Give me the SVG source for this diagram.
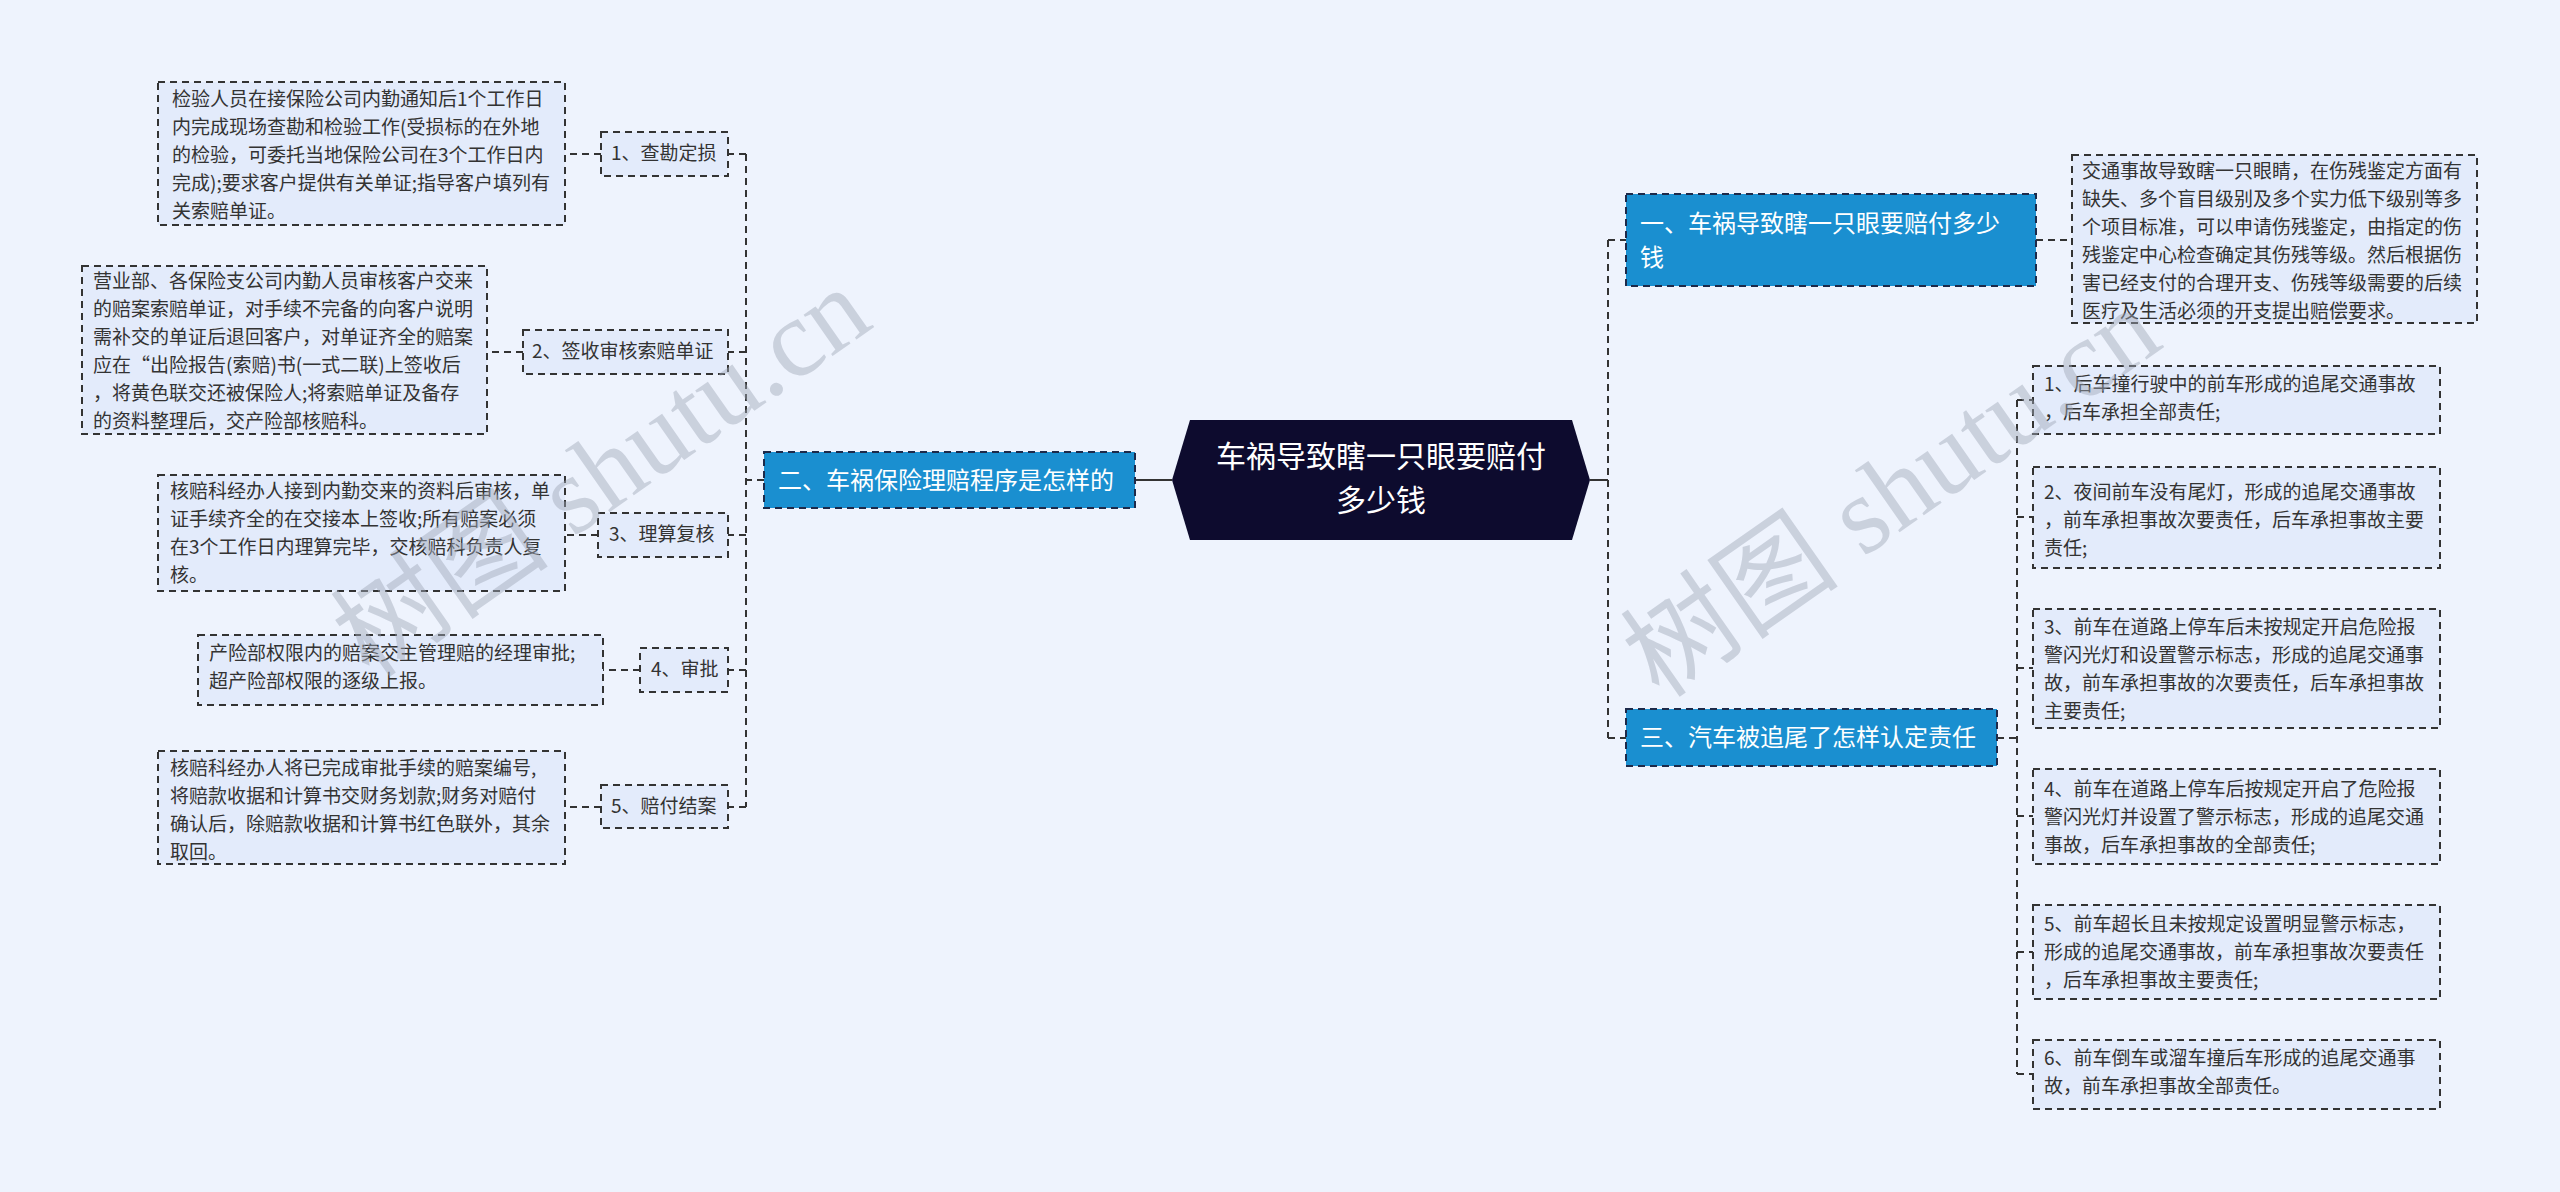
<svg xmlns="http://www.w3.org/2000/svg" width="2560" height="1192" viewBox="0 0 2560 1192">
<style>
.bg{fill:#eef3fd}
.d{fill:#e3ebfb;stroke:#333;stroke-width:2;stroke-dasharray:7 5}
.b{fill:#1a8fd0;stroke:#1d2a4a;stroke-width:2;stroke-dasharray:7 5}
.c{fill:none;stroke:#333;stroke-width:2;stroke-dasharray:7 5}
.t{font-family:"Noto Sans CJK SC","Liberation Sans",sans-serif;font-size:19px;fill:#333}
.s{font-family:"Noto Sans CJK SC","Liberation Sans",sans-serif;font-size:19px;fill:#333}
.w{font-family:"Noto Sans CJK SC","Liberation Sans",sans-serif;font-size:24px;fill:#fff}
.big{font-size:30px}
.wm{font-family:"Liberation Serif","Noto Sans CJK SC",serif;font-size:110px;fill:#a0a8b8;opacity:0.45}
</style>
<rect class="bg" width="2560" height="1192"/>
<g id="connectors">
<path class="c" d="M764 480 H746 M746 154 V807 M746 154 H728 M746 352 H728 M746 535 H728 M746 670 H728 M746 807 H728"/>
<path class="c" d="M601 154 H565 M523 352 H487 M598 535 H565 M640 670 H603 M601 807 H565"/>
<path d="M1135 480 H1172 M1590 480 H1608" stroke="#333" stroke-width="2" fill="none"/>
<path class="c" d="M1608 240 V738 M1608 240 H1626 M1608 738 H1626"/>
<path class="c" d="M2036 240 H2072"/>
<path class="c" d="M1997 738 H2017 M2017 400 V1074 M2017 400 H2033 M2017 517 H2033 M2017 668 H2033 M2017 816 H2033 M2017 952 H2033 M2017 1074 H2033"/>
</g>
<g id="center">
<polygon points="1190,420 1572,420 1590,480 1572,540 1190,540 1172,480" fill="#0d0b2e"/>
<text class="w big" x="1381" y="467" text-anchor="middle">车祸导致瞎一只眼要赔付</text>
<text class="w big" x="1381" y="511" text-anchor="middle">多少钱</text>
</g>
<g id="b2"><rect class="b" x="764" y="452" width="371" height="56"/><text class="w" x="778" y="489">二、车祸保险理赔程序是怎样的</text></g>
<g id="b1"><rect class="b" x="1626" y="194" width="410" height="92"/><text class="w" x="1640" y="232">一、车祸导致瞎一只眼要赔付多少</text><text class="w" x="1640" y="266">钱</text></g>
<g id="b3"><rect class="b" x="1626" y="709" width="371" height="57"/><text class="w" x="1640" y="746">三、汽车被追尾了怎样认定责任</text></g>
<g id="l1"><rect class="d" x="601" y="132" width="127" height="44"/><text class="s" x="611" y="160">1、查勘定损</text></g>
<g id="l2"><rect class="d" x="523" y="330" width="205" height="44"/><text class="s" x="532" y="358">2、签收审核索赔单证</text></g>
<g id="l3"><rect class="d" x="598" y="513" width="130" height="44"/><text class="s" x="609" y="541">3、理算复核</text></g>
<g id="l4"><rect class="d" x="640" y="648" width="88" height="44"/><text class="s" x="651" y="676">4、审批</text></g>
<g id="l5"><rect class="d" x="601" y="785" width="127" height="43"/><text class="s" x="611" y="813">5、赔付结案</text></g>
<g id="d1"><rect class="d" x="158" y="82" width="407" height="143"/>
<text class="t" x="172" y="106">检验人员在接保险公司内勤通知后1个工作日</text>
<text class="t" x="172" y="134">内完成现场查勘和检验工作(受损标的在外地</text>
<text class="t" x="172" y="162">的检验，可委托当地保险公司在3个工作日内</text>
<text class="t" x="172" y="190">完成);要求客户提供有关单证;指导客户填列有</text>
<text class="t" x="172" y="218">关索赔单证。</text></g>
<g id="d2"><rect class="d" x="82" y="266" width="405" height="168"/>
<text class="t" x="93" y="288">营业部、各保险支公司内勤人员审核客户交来</text>
<text class="t" x="93" y="316">的赔案索赔单证，对手续不完备的向客户说明</text>
<text class="t" x="93" y="344">需补交的单证后退回客户，对单证齐全的赔案</text>
<text class="t" x="93" y="372">应在“出险报告(索赔)书(一式二联)上签收后</text>
<text class="t" x="93" y="400">，将黄色联交还被保险人;将索赔单证及备存</text>
<text class="t" x="93" y="428">的资料整理后，交产险部核赔科。</text></g>
<g id="d3"><rect class="d" x="158" y="475" width="407" height="116"/>
<text class="t" x="170" y="498">核赔科经办人接到内勤交来的资料后审核，单</text>
<text class="t" x="170" y="526">证手续齐全的在交接本上签收;所有赔案必须</text>
<text class="t" x="170" y="554">在3个工作日内理算完毕，交核赔科负责人复</text>
<text class="t" x="170" y="582">核。</text></g>
<g id="d4"><rect class="d" x="198" y="635" width="405" height="70"/>
<text class="t" x="209" y="660">产险部权限内的赔案交主管理赔的经理审批;</text>
<text class="t" x="209" y="688">超产险部权限的逐级上报。</text></g>
<g id="d5"><rect class="d" x="158" y="751" width="407" height="113"/>
<text class="t" x="170" y="775">核赔科经办人将已完成审批手续的赔案编号,</text>
<text class="t" x="170" y="803">将赔款收据和计算书交财务划款;财务对赔付</text>
<text class="t" x="170" y="831">确认后，除赔款收据和计算书红色联外，其余</text>
<text class="t" x="170" y="859">取回。</text></g>
<g id="r0"><rect class="d" x="2072" y="155" width="405" height="168"/>
<text class="t" x="2082" y="178">交通事故导致瞎一只眼睛，在伤残鉴定方面有</text>
<text class="t" x="2082" y="206">缺失、多个盲目级别及多个实力低下级别等多</text>
<text class="t" x="2082" y="234">个项目标准，可以申请伤残鉴定，由指定的伤</text>
<text class="t" x="2082" y="262">残鉴定中心检查确定其伤残等级。然后根据伤</text>
<text class="t" x="2082" y="290">害已经支付的合理开支、伤残等级需要的后续</text>
<text class="t" x="2082" y="318">医疗及生活必须的开支提出赔偿要求。</text></g>
<g id="r1"><rect class="d" x="2033" y="366" width="407" height="68"/>
<text class="t" x="2044" y="391">1、后车撞行驶中的前车形成的追尾交通事故</text>
<text class="t" x="2044" y="419">，后车承担全部责任;</text></g>
<g id="r2"><rect class="d" x="2033" y="467" width="407" height="101"/>
<text class="t" x="2044" y="499">2、夜间前车没有尾灯，形成的追尾交通事故</text>
<text class="t" x="2044" y="527">，前车承担事故次要责任，后车承担事故主要</text>
<text class="t" x="2044" y="555">责任;</text></g>
<g id="r3"><rect class="d" x="2033" y="609" width="407" height="119"/>
<text class="t" x="2044" y="634">3、前车在道路上停车后未按规定开启危险报</text>
<text class="t" x="2044" y="662">警闪光灯和设置警示标志，形成的追尾交通事</text>
<text class="t" x="2044" y="690">故，前车承担事故的次要责任，后车承担事故</text>
<text class="t" x="2044" y="718">主要责任;</text></g>
<g id="r4"><rect class="d" x="2033" y="769" width="407" height="95"/>
<text class="t" x="2044" y="796">4、前车在道路上停车后按规定开启了危险报</text>
<text class="t" x="2044" y="824">警闪光灯并设置了警示标志，形成的追尾交通</text>
<text class="t" x="2044" y="852">事故，后车承担事故的全部责任;</text></g>
<g id="r5"><rect class="d" x="2033" y="905" width="407" height="94"/>
<text class="t" x="2044" y="931">5、前车超长且未按规定设置明显警示标志，</text>
<text class="t" x="2044" y="959">形成的追尾交通事故，前车承担事故次要责任</text>
<text class="t" x="2044" y="987">，后车承担事故主要责任;</text></g>
<g id="r6"><rect class="d" x="2033" y="1040" width="407" height="69"/>
<text class="t" x="2044" y="1065">6、前车倒车或溜车撞后车形成的追尾交通事</text>
<text class="t" x="2044" y="1093">故，前车承担事故全部责任。</text></g>
<g id="watermark">
<text class="wm" transform="translate(370,680) rotate(-35)">树图 shutu.cn</text>
<text class="wm" transform="translate(1660,700) rotate(-35)">树图 shutu.cn</text>
</g>
</svg>
